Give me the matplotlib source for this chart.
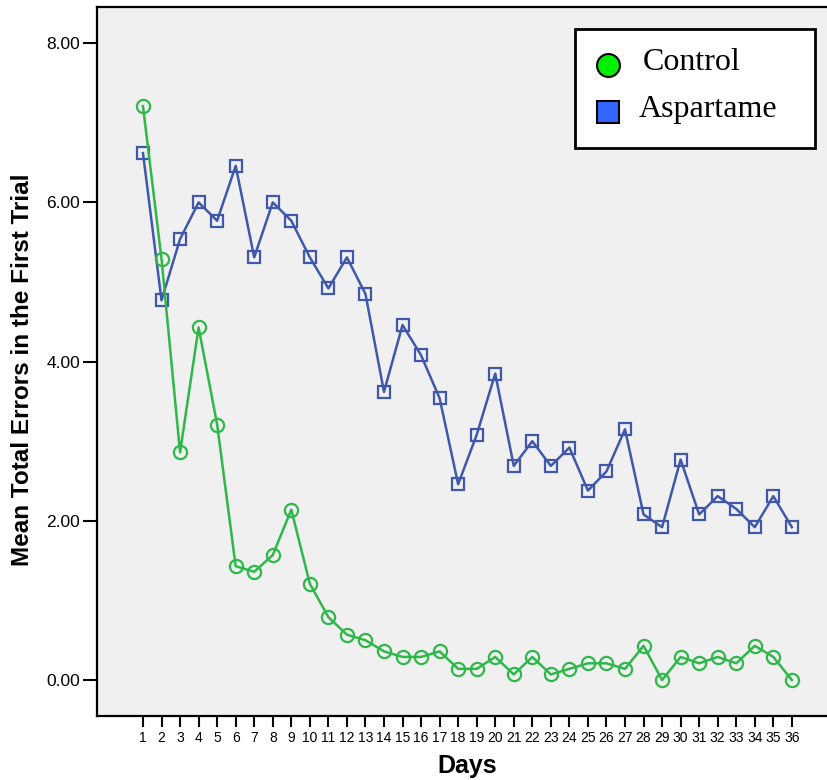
import matplotlib.pyplot as plt
from matplotlib.patches import Rectangle

days = list(range(1, 37))
control = [7.21, 5.29, 2.86, 4.43, 3.21, 1.43, 1.36, 1.57, 2.14, 1.21,
           0.79, 0.57, 0.50, 0.36, 0.29, 0.29, 0.36, 0.14, 0.14, 0.29,
           0.07, 0.29, 0.07, 0.14, 0.21, 0.21, 0.14, 0.43, 0.00, 0.29,
           0.21, 0.29, 0.21, 0.43, 0.29, 0.00]
aspartame = [6.62, 4.77, 5.54, 6.00, 5.77, 6.46, 5.31, 6.00, 5.77, 5.31,
             4.92, 5.31, 4.85, 3.62, 4.46, 4.08, 3.54, 2.46, 3.08, 3.85,
             2.69, 3.00, 2.69, 2.92, 2.38, 2.62, 3.15, 2.08, 1.92, 2.77,
             2.08, 2.31, 2.15, 1.92, 2.31, 1.92]
y_ticks = [0, 2, 4, 6, 8]
series_names = ["Control", "Aspartame"]

green = "#2fb84a"
blue = "#3f58ab"

W, H = 828, 780
fig = plt.figure(figsize=(W/100, H/100), dpi=100)
ax_left, ax_top, ax_bottom = 97, 7, 716
ax = fig.add_axes([ax_left/W, (H - ax_bottom)/H, 1 - ax_left/W, (ax_bottom - ax_top)/H])
ax.set_facecolor("#f0f0f0")

ax.plot(days, aspartame, color=blue, lw=1.8, marker="s", ms=9,
        mfc="none", mec=blue, mew=1.6, zorder=3)
ax.plot(days, control, color=green, lw=1.8, marker="o", ms=9.5,
        mfc="none", mec=green, mew=1.6, zorder=4)

ax.set_xlim(-1.48, 37.95)
ax.set_ylim(-0.452, 8.455)
ax.set_xticks(days)
ax.set_xticklabels([str(d) for d in days], fontsize=10, family="Liberation Sans")
ax.set_yticks(y_ticks)
ax.set_yticklabels(["%.2f" % v for v in y_ticks], fontsize=12.5, family="Liberation Sans")
ax.tick_params(direction="out", width=1.5, color="black")
ax.tick_params(axis="x", length=8, pad=3)
ax.tick_params(axis="y", length=10, pad=2)

for side in ["left", "top", "bottom"]:
    ax.spines[side].set_linewidth(1.6)
ax.spines["right"].set_visible(False)

fig.text(467/W, 1 - 766/H, "Days", fontsize=18, fontweight="bold",
         family="Liberation Sans", ha="center", va="center")
fig.text(23/W, 1 - 370/H, "Mean Total Errors in the First Trial", fontsize=17.5,
         fontweight="bold", family="Liberation Sans", rotation=90,
         ha="center", va="center")


# legend box drawn by hand, positions given in pixels of the axes
def ax_xy(px, py):
    return (px - ax_left) / (W - ax_left), (ax_bottom - py) / (ax_bottom - ax_top)


x0, y0 = ax_xy(575, 148)
x1, y1 = ax_xy(815, 29)
ax.add_patch(Rectangle((x0, y0), x1 - x0, y1 - y0, transform=ax.transAxes,
                       facecolor="white", edgecolor="black", lw=2, zorder=10))
mx, my = ax_xy(608, 65)
ax.plot([mx], [my], marker="o", ms=16.5, mfc="#00ee00", mec="black", mew=1.5,
        transform=ax.transAxes, zorder=11, clip_on=False)
mx, my = ax_xy(608, 112)
ax.plot([mx], [my], marker="s", ms=16, mfc="#3366ff", mec="black", mew=1.5,
        transform=ax.transAxes, zorder=11, clip_on=False)
tx, ty = ax_xy(643, 70)
ax.text(tx, ty, series_names[0], transform=ax.transAxes, fontsize=23,
        family="Liberation Serif", va="baseline", ha="left", zorder=12)
tx, ty = ax_xy(639, 117)
ax.text(tx, ty, series_names[1], transform=ax.transAxes, fontsize=23,
        family="Liberation Serif", va="baseline", ha="left", zorder=12)

fig.savefig("out.png", dpi=100)
